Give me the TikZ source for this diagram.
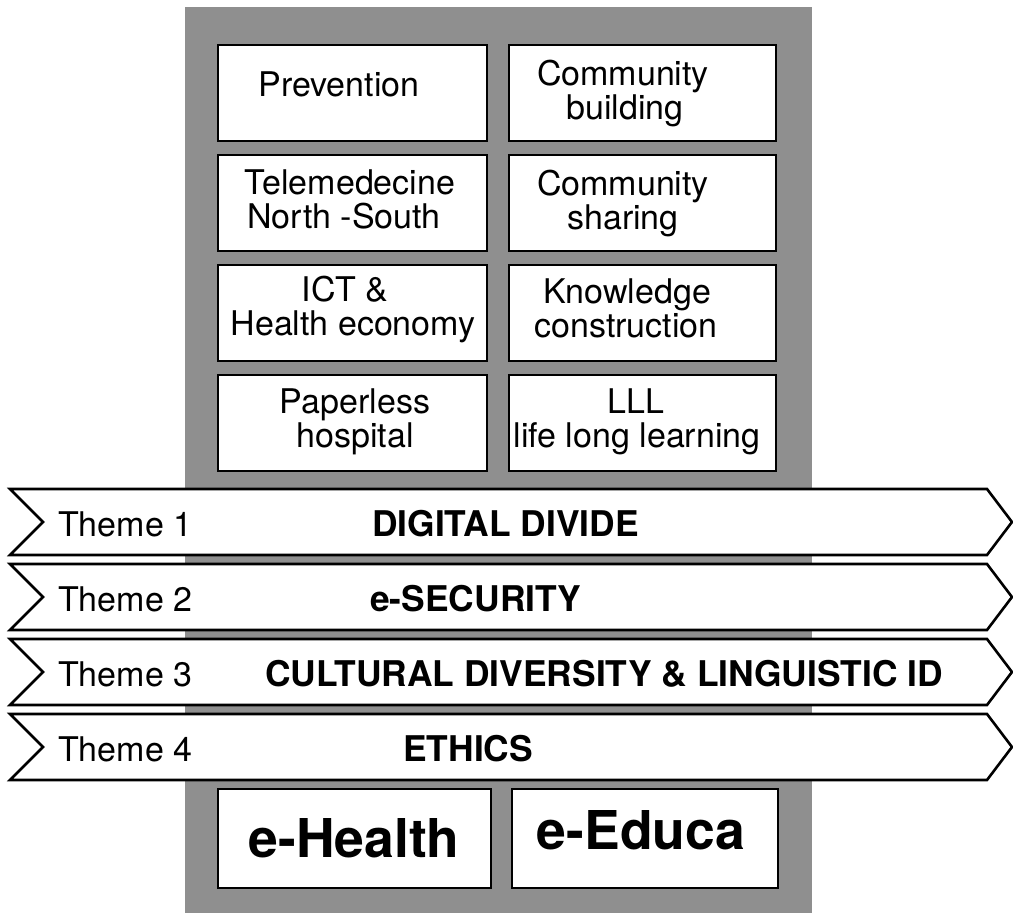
\documentclass[tikz,border=0pt]{standalone}
\usepackage{fontspec}
\setmainfont{TeX Gyre Heros}
\definecolor{panelgray}{RGB}{143,143,143}
\begin{document}
\begin{tikzpicture}[x=1pt,y=-1pt,
  cell/.style={draw=black,line width=2.6pt,fill=white},
  banner/.style={draw=black,line width=2.6pt,fill=white,line join=miter},
  ln/.style={inner sep=0pt,anchor=base,font=\fontsize{34}{32}\selectfont},
  th/.style={inner sep=0pt,anchor=base west,font=\fontsize{34}{32}\selectfont},
  tt/.style={inner sep=0pt,anchor=base west,font=\fontsize{35.4}{32}\selectfont\bfseries},
  big/.style={inner sep=0pt,anchor=base,font=\fontsize{53.5}{52}\selectfont\bfseries}]
\useasboundingbox (0,0) rectangle (1013,913);
\fill[panelgray] (185,7) rectangle (812,913);
% grid cells
\draw[cell] (218,45) rectangle (487,141);
\draw[cell] (509,45) rectangle (776,141);
\draw[cell] (218,155) rectangle (487,251);
\draw[cell] (509,155) rectangle (776,251);
\draw[cell] (218,265) rectangle (487,361);
\draw[cell] (509,265) rectangle (776,361);
\draw[cell] (218,375) rectangle (487,471);
\draw[cell] (509,375) rectangle (776,471);
% cell texts
\node[ln] (prev) at (339,96) {Prevention};
\node[ln] (cb1) at (623,85) {Community};
\node[ln] (cb2) at (625,119) {building};
\node[ln] (tm1) at (350,194) {Telemedecine};
\node[ln] (tm2) at (344,228) {North -South};
\node[ln] (cs1) at (623,195) {Community};
\node[ln] (cs2) at (623,229) {sharing};
\node[ln] (ict1) at (345,301) {ICT \&};
\node[ln] (ict2) at (353,335) {Health economy};
\node[ln] (kc1) at (627,303) {Knowledge};
\node[ln] (kc2) at (626,337) {construction};
\node[ln] (ph1) at (355,413) {Paperless};
\node[ln] (ph2) at (355,447) {hospital};
\node[ln] (lll1) at (636,413) {LLL};
\node[ln] (lll2) at (637,447) {life long learning};
% banners
\foreach \t/\c in {489/1,564/2,639/3,714/4}{
  \draw[banner] (10,\t) -- (987,\t) -- (1012,\t+33) -- (987,\t+66) -- (10,\t+66) -- (43,\t+33) -- cycle;
}
\node[th] (th1) at (58,536) {Theme 1};
\node[th] (th2) at (58,611) {Theme 2};
\node[th] (th3) at (58,686) {Theme 3};
\node[th] (th4) at (58,761) {Theme 4};
\node[tt] (tt1) at (372,536) {DIGITAL DIVIDE};
\node[tt] (tt2) at (370,611) {e-SECURITY};
\node[tt] (tt3) at (265,686) {CULTURAL DIVERSITY \& LINGUISTIC ID};
\node[tt] (tt4) at (403,761) {ETHICS};
% bottom boxes
\draw[cell] (218,789) rectangle (491,888);
\draw[cell] (512,789) rectangle (778,888);
\node[big] (eh) at (354,857) {e-Health};
\node[big] (ee) at (641,849) {e-Educa};
\end{tikzpicture}
\end{document}
